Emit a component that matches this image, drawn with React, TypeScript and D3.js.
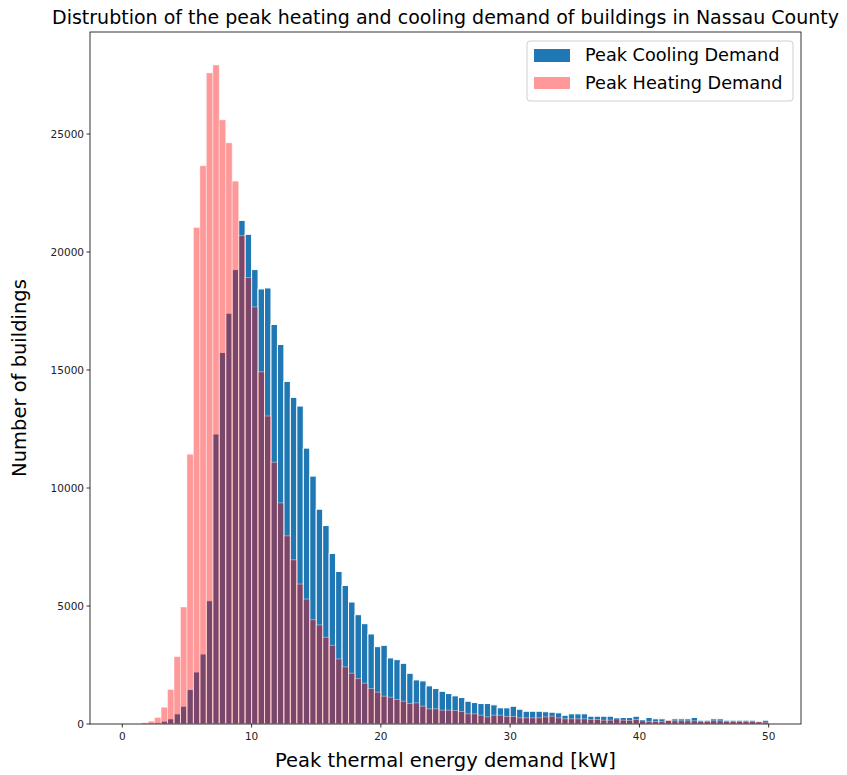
import React from "react";
import * as d3 from "d3";

// histogram bins: 0.5 kW wide, from 0 to 50 kW
const binWidth = 0.5;
const binCount = 100;

// counts per bin
const cooling = [
  0, 0, 0, 0, 20, 50, 120, 220, 430, 755,
  1460, 2207, 2968, 5224, 12288, 15744, 17407, 19255, 21340, 20750,
  19255, 18435, 18477, 16929, 16082, 14518, 13841, 13473, 11690, 10505,
  9102, 8410, 7226, 6464, 5872, 5169, 4632, 4251, 3815, 3278,
  3334, 2800, 2728, 2572, 2150, 1870, 1827, 1616, 1502, 1387,
  1290, 1193, 1121, 965, 909, 867, 867, 812, 685, 685,
  753, 626, 541, 541, 541, 520, 500, 474, 372, 431,
  431, 431, 330, 330, 330, 330, 275, 275, 275, 330,
  190, 275, 220, 220, 150, 220, 220, 220, 275, 161,
  161, 220, 220, 161, 161, 161, 161, 161, 100, 161,
];

const heating = [
  0, 0, 0, 50, 120, 275, 710, 1460, 2855, 4957,
  11430, 21036, 23654, 27590, 27926, 25600, 24627, 23003, 20693, 18918,
  17673, 14924, 13050, 11091, 9370, 7974, 6958, 5930, 5295, 4420,
  4196, 3672, 3334, 2757, 2419, 2150, 1925, 1727, 1502, 1346,
  1177, 1134, 1036, 965, 867, 897, 753, 643, 643, 584,
  584, 571, 529, 431, 431, 372, 304, 372, 372, 317,
  317, 262, 262, 262, 262, 304, 330, 260, 220, 220,
  220, 220, 190, 190, 160, 160, 220, 160, 150, 190,
  135, 106, 106, 106, 160, 135, 135, 135, 135, 106,
  106, 135, 135, 106, 106, 106, 106, 106, 100, 76,
];

const xTicks = [0, 10, 20, 30, 40, 50];
const yTicks = [0, 5000, 10000, 15000, 20000, 25000];

const seriesNames = ["Peak Cooling Demand", "Peak Heating Demand"];

const W = 847;
const H = 775;
const margin = { top: 32, right: 46, bottom: 51, left: 90 };
const FONT = "'DejaVu Sans', sans-serif";

const App = () => {
  const innerW = W - margin.left - margin.right;
  const innerH = H - margin.top - margin.bottom;
  const xMax = binWidth * binCount;

  const x = d3
    .scaleLinear()
    .domain([-xMax * 0.05, xMax * 1.05])
    .range([margin.left, margin.left + innerW]);

  const yMax = d3.max([...cooling, ...heating]) * 1.05;
  const y = d3
    .scaleLinear()
    .domain([0, yMax])
    .range([margin.top + innerH, margin.top]);

  const bars = (data, fill, fillOpacity, strokeOpacity) =>
    data.map((v, i) => {
      const x0 = x(i * binWidth);
      const x1 = x((i + 1) * binWidth);
      if (v <= 0) return null;
      return (
        <rect
          key={i}
          x={x0}
          y={y(v)}
          width={x1 - x0}
          height={y(0) - y(v)}
          fill={fill}
          fillOpacity={fillOpacity}
          stroke="#ffffff"
          strokeOpacity={strokeOpacity}
          strokeWidth={1}
        />
      );
    });

  const bottom = margin.top + innerH;

  return (
    <div style={{ position: "absolute", left: 0, top: 0 }}>
      <svg width={W} height={H} style={{ display: "block", background: "#fff" }}>
        <text
          x={margin.left + innerW / 2}
          y={24}
          textAnchor="middle"
          fontFamily={FONT}
          fontSize={19}
          fill="#000"
        >
          Distrubtion of the peak heating and cooling demand of buildings in Nassau County
        </text>

        <g>{bars(cooling, "#1f77b4", 1, 1)}</g>
        <g>{bars(heating, "red", 0.4, 0.4)}</g>

        {/* axes frame */}
        <rect
          x={margin.left}
          y={margin.top}
          width={innerW}
          height={innerH}
          fill="none"
          stroke="#000"
          strokeWidth={0.8}
        />

        {xTicks.map((t) => (
          <g key={t} transform={`translate(${x(t)},${bottom})`}>
            <line y2={3.5} stroke="#000" strokeWidth={0.8} />
            <text
              y={16}
              textAnchor="middle"
              fontFamily={FONT}
              fontSize={10.5}
              fill="#222"
            >
              {t}
            </text>
          </g>
        ))}

        {yTicks.map((t) => (
          <g key={t} transform={`translate(${margin.left},${y(t)})`}>
            <line x2={-3.5} stroke="#000" strokeWidth={0.8} />
            <text
              x={-6}
              dy="0.35em"
              textAnchor="end"
              fontFamily={FONT}
              fontSize={10.5}
              fill="#222"
            >
              {t}
            </text>
          </g>
        ))}

        <text
          x={margin.left + innerW / 2}
          y={767}
          textAnchor="middle"
          fontFamily={FONT}
          fontSize={19.5}
          fill="#000"
        >
          Peak thermal energy demand [kW]
        </text>
        <text
          transform={`translate(26,${margin.top + innerH / 2}) rotate(-90)`}
          textAnchor="middle"
          fontFamily={FONT}
          fontSize={19.5}
          fill="#000"
        >
          Number of buildings
        </text>

        {/* legend */}
        <g>
          <rect
            x={527}
            y={41}
            width={266}
            height={60}
            rx={3}
            fill="#fff"
            fillOpacity={0.8}
            stroke="#d0d0d0"
            strokeWidth={1}
          />
          <rect x={534} y={49} width={36} height={13} fill="#1f77b4" />
          <rect x={534} y={77} width={36} height={12} fill="red" fillOpacity={0.4} />
          <text x={585} y={61} fontFamily={FONT} fontSize={17.7} fill="#000">
            {seriesNames[0]}
          </text>
          <text x={585} y={89} fontFamily={FONT} fontSize={17.7} fill="#000">
            {seriesNames[1]}
          </text>
        </g>
      </svg>
    </div>
  );
};

export default App;
